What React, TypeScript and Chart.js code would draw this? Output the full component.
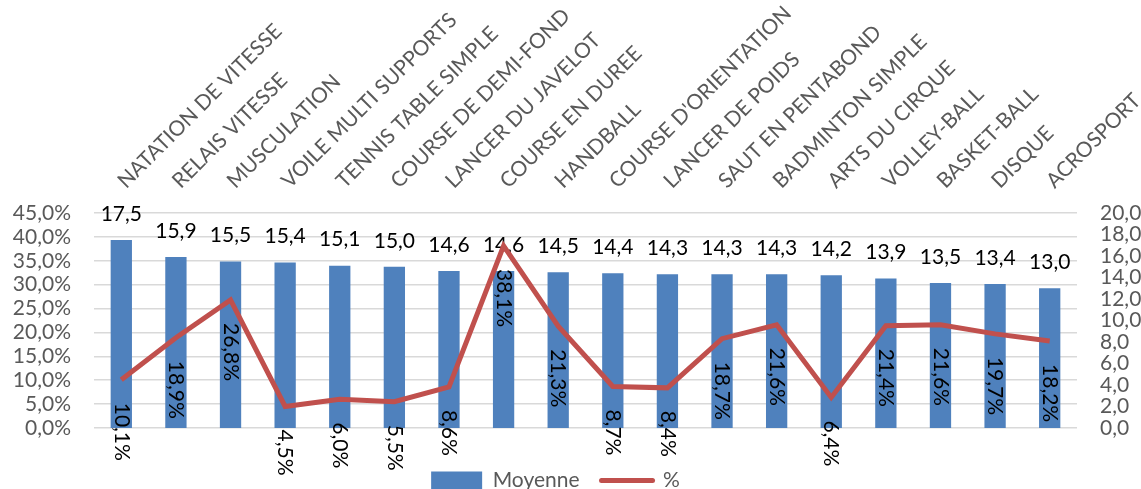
import React, { useEffect, useRef } from "react";
import { Chart, registerables } from "chart.js";

Chart.register(...registerables);

const categories = [
  "NATATION DE VITESSE",
  "RELAIS VITESSE",
  "MUSCULATION",
  "VOILE MULTI SUPPORTS",
  "TENNIS TABLE SIMPLE",
  "COURSE DE DEMI-FOND",
  "LANCER DU JAVELOT",
  "COURSE EN DUREE",
  "HANDBALL",
  "COURSE D'ORIENTATION",
  "LANCER DE POIDS",
  "SAUT EN PENTABOND",
  "BADMINTON SIMPLE",
  "ARTS DU CIRQUE",
  "VOLLEY-BALL",
  "BASKET-BALL",
  "DISQUE",
  "ACROSPORT",
];

const moyenne = [17.5, 15.9, 15.5, 15.4, 15.1, 15.0, 14.6, 14.6, 14.5, 14.4, 14.3, 14.3, 14.3, 14.2, 13.9, 13.5, 13.4, 13.0];
const pourcentage = [10.1, 18.9, 26.8, 4.5, 6.0, 5.5, 8.6, 38.1, 21.3, 8.7, 8.4, 18.7, 21.6, 6.4, 21.4, 21.6, 19.7, 18.2];

const leftTicksMax = 45;
const leftTicksStep = 5;
const rightTicksMax = 20;
const rightTicksStep = 2;

const BAR_COLOR = "#4f81bd";
const LINE_COLOR = "#c0504d";
const AXIS_TEXT = "#595959";
const FONT = "Lato";

const fmt = (v: number) => v.toFixed(1).replace(".", ",");

const labelsPlugin = {
  id: "valueLabels",
  afterLayout(chart: any) {
    const lg = chart.legend;
    if (lg) {
      lg.right = lg.right - 30;
    }
  },
  beforeDatasetsDraw(chart: any) {
    const ctx = chart.ctx;
    const meta = chart.getDatasetMeta(0);
    ctx.save();
    ctx.font = `21px ${FONT}`;
    ctx.fillStyle = "#000000";
    ctx.textAlign = "center";
    ctx.textBaseline = "middle";
    meta.data.forEach((el: any, i: number) => {
      ctx.fillText(fmt(moyenne[i]), el.x, el.y - 26);
    });
    ctx.restore();
  },
  afterDatasetsDraw(chart: any) {
    const ctx = chart.ctx;
    const meta = chart.getDatasetMeta(1);
    ctx.save();
    ctx.font = `21px ${FONT}`;
    ctx.fillStyle = "#000000";
    ctx.textAlign = "left";
    ctx.textBaseline = "middle";
    meta.data.forEach((el: any, i: number) => {
      ctx.save();
      ctx.translate(el.x, el.y + 23);
      ctx.rotate(Math.PI / 2);
      ctx.fillText(fmt(pourcentage[i]) + "%", 0, 0);
      ctx.restore();
    });
    ctx.restore();
  },
};

export default function App() {
  const canvasRef = useRef<HTMLCanvasElement | null>(null);

  useEffect(() => {
    if (!canvasRef.current) return;
    Chart.defaults.font.family = FONT;
    const chart = new Chart(canvasRef.current, {
      type: "bar",
      data: {
        labels: categories,
        datasets: [
          {
            type: "bar",
            label: "Moyenne",
            data: moyenne,
            backgroundColor: BAR_COLOR,
            borderWidth: 0,
            yAxisID: "y1",
            barPercentage: 0.39,
            categoryPercentage: 1,
            order: 2,
          } as any,
          {
            type: "line",
            label: "%",
            data: pourcentage,
            borderColor: LINE_COLOR,
            backgroundColor: LINE_COLOR,
            borderWidth: 5,
            pointRadius: 0,
            tension: 0,
            yAxisID: "y",
            order: 1,
          } as any,
        ],
      },
      options: {
        responsive: false,
        animation: false,
        layout: { padding: 0 },
        plugins: {
          tooltip: { enabled: false },
          legend: {
            display: true,
            position: "bottom",
            title: { display: true, text: "", font: { size: 10, lineHeight: 1 }, padding: { top: 10, bottom: 0 } },
            labels: {
              usePointStyle: true,
              pointStyleWidth: 51,
              boxHeight: 18,
              padding: 22,
              color: AXIS_TEXT,
              font: { size: 21, family: FONT },
              generateLabels: (c: any) =>
                c.data.datasets.map((ds: any, i: number) => ({
                  text: ds.label,
                  fillStyle: i === 0 ? BAR_COLOR : LINE_COLOR,
                  strokeStyle: i === 0 ? BAR_COLOR : LINE_COLOR,
                  lineWidth: i === 0 ? 0 : 5,
                  lineCap: "round",
                  pointStyle: i === 0 ? "rect" : "line",
                  fontColor: AXIS_TEXT,
                  hidden: false,
                  datasetIndex: i,
                })),
            },
          },
        },
        scales: {
          x: {
            type: "category",
            position: "top",
            offset: true,
            grid: { display: false, drawTicks: false },
            border: { display: false },
            ticks: {
              autoSkip: false,
              maxRotation: 45,
              minRotation: 45,
              padding: 21,
              labelOffset: 15,
              color: AXIS_TEXT,
              font: { size: 21, family: FONT, lineHeight: 1 },
            },
            afterFit: (s: any) => {
              s.height = 213;
              s.paddingLeft = 0;
              s.paddingRight = 0;
            },
          },
          y: {
            type: "linear",
            position: "left",
            min: 0,
            max: leftTicksMax,
            ticks: {
              autoSkip: false,
              stepSize: leftTicksStep,
              padding: 23,
              color: AXIS_TEXT,
              font: { size: 21, family: FONT },
              callback: (v: any) => fmt(Number(v)) + "%",
            },
            grid: { color: "#d9d9d9", lineWidth: 1.5, drawTicks: false },
            border: { display: false },
            afterFit: (s: any) => {
              s.width = 94;
            },
          },
          y1: {
            type: "linear",
            position: "right",
            min: 0,
            max: rightTicksMax,
            ticks: {
              autoSkip: false,
              stepSize: rightTicksStep,
              padding: 23,
              color: AXIS_TEXT,
              font: { size: 21, family: FONT },
              callback: (v: any) => fmt(Number(v)),
            },
            grid: { display: false, drawTicks: false },
            border: { display: false },
            afterFit: (s: any) => {
              s.width = 64;
            },
          },
        },
      } as any,
      plugins: [labelsPlugin],
    });
    return () => chart.destroy();
  }, []);

  return (
    <div style={{ position: "absolute", left: 0, top: 0, width: 1141, height: 489, overflow: "hidden", background: "#ffffff" }}>
      <canvas ref={canvasRef} width={1141} height={501} style={{ display: "block" }} />
    </div>
  );
}
